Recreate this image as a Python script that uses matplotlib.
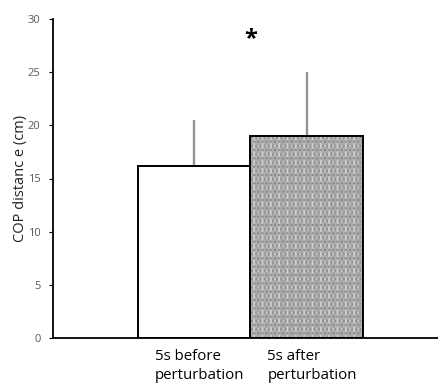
import matplotlib
matplotlib.use("Agg")
import matplotlib.pyplot as plt

categories = ["5s before\nperturbation", "5s after\nperturbation"]
means = [16.2, 19.0]
errors = [4.3, 6.0]
yticks = [0, 5, 10, 15, 20, 25, 30]
ylabel = "COP distanc e (cm)"

plt.rcParams['font.family'] = ['Open Sans', 'DejaVu Sans']
plt.rcParams['hatch.linewidth'] = 1.0

fig = plt.figure(figsize=(4.39, 3.84), dpi=100)
W, H = 439, 384
left_px, bottom_px, top_px = 53, 338, 19
ax_w_px = 448 - left_px
ax = fig.add_axes([left_px / W, 1 - bottom_px / H, ax_w_px / W, (bottom_px - top_px) / H])

x = [0, 1]
# first bar: white with black edge
ax.bar(x[0], means[0], width=1.0, color='white', edgecolor='black', linewidth=1.4, zorder=2)
# second bar: patterned grey
ax.bar(x[1], means[1], width=1.0, color='#aaaaaa', edgecolor='#d0d0d0', hatch='++', linewidth=0, zorder=2)
ax.bar(x[1], means[1], width=1.0, color='none', edgecolor='#888888', hatch='....', linewidth=0, zorder=2)
ax.bar(x[1], means[1], width=1.0, fill=False, edgecolor='black', linewidth=1.4, zorder=3)

ax.errorbar(x, means, yerr=[[0, 0], errors], fmt='none', ecolor='#939393', elinewidth=1.7, capsize=0, zorder=1)

ax.set_xlim(-1.25, 2.25)
ax.set_ylim(0, 30)
ax.set_yticks(yticks)
ax.set_xticks([])
for s in ['top', 'right']:
    ax.spines[s].set_visible(False)
for s in ['left', 'bottom']:
    ax.spines[s].set_linewidth(1.3)
ax.tick_params(axis='y', direction='out', length=3, width=0.8, colors='black', labelcolor='#595959', labelsize=8, pad=6)

for xi, lab in zip(x, categories):
    ax.text(xi - 0.35, -1.0, lab, ha='left', va='top', fontsize=10.8, color='black', linespacing=1.4)

ax.set_ylabel(ylabel, fontsize=10.5, color='#222222')
ax.yaxis.set_label_coords((28 - left_px) / ax_w_px, 0.5)

ax.text(0.5, 28.1, "*", ha='center', va='center', fontsize=17, fontweight='bold')

fig.savefig("out.png", dpi=100)
